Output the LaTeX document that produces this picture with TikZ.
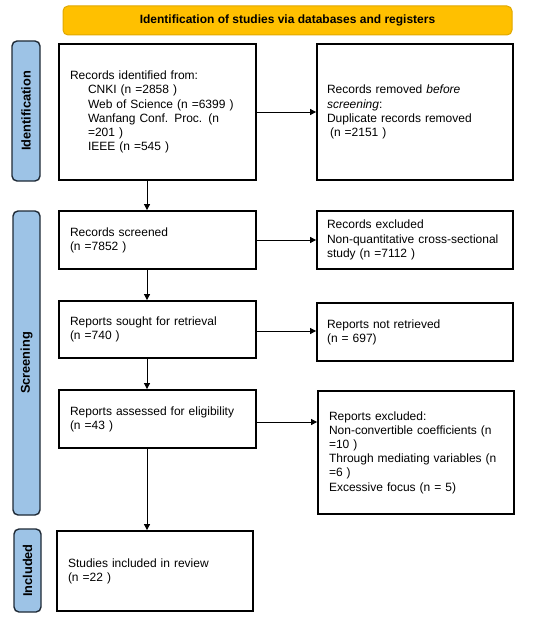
\documentclass[tikz,border=0pt]{standalone}
\usepackage{fontspec}
\setmainfont{Liberation Sans}
\usetikzlibrary{arrows.meta}
\definecolor{bannerfill}{HTML}{FFC000}
\definecolor{bannerdraw}{HTML}{E0A800}
\definecolor{barfill}{HTML}{9DC3E6}
\definecolor{bardraw}{HTML}{1F2A36}
\tikzset{
  box/.style={draw=black, line width=1.8pt, fill=white, align=left, anchor=center,
    inner xsep=11pt, inner ysep=0pt, font=\fontsize{12}{14.2}\selectfont},
  sidebar/.style={draw=bardraw, line width=1.4pt, fill=barfill, rounded corners=5pt,
    rotate=90, inner sep=0pt, font=\fontsize{12.8}{14}\selectfont\bfseries},
  banner/.style={draw=bannerdraw, line width=1pt, fill=bannerfill, rounded corners=5pt,
    inner sep=0pt, font=\fontsize{12}{14}\selectfont\bfseries},
  flow/.style={line width=0.8pt, -{Triangle[length=6pt,width=6pt]}}
}
\begin{document}
\begin{tikzpicture}[x=1pt,y=-1pt]
\useasboundingbox (0,0) rectangle (550,623);
\node[banner, minimum width=449pt, minimum height=29pt] (ban) at (287.5,20.5) {Identification of studies via databases and registers};
\node[sidebar, minimum width=140pt, minimum height=28pt] (idbar) at (26,111) {Identification};
\node[sidebar, minimum width=304pt, minimum height=27pt] (scbar) at (26.5,363) {Screening};
\node[sidebar, minimum width=83pt, minimum height=27pt] (inbar) at (27.5,570.5) {Included};

\node[box, minimum width=197pt, minimum height=136pt, text width=175pt] (b1) at (157.5,112) {Records identified from:\\
\hspace*{18pt}CNKI (n =2858 )\\
\hspace*{18pt}Web of Science (n =6399 )\\
\hspace*{18pt}Wanfang Conf. Proc. (n\\
\hspace*{18pt}=201 )\\
\hspace*{18pt}IEEE (n =545 )};
\node[box, minimum width=196pt, minimum height=136pt, text width=176pt, inner xsep=10pt] (b2) at (415,112) {Records removed \textit{before}\\
\textit{screening}:\\
Duplicate records removed\\
\hspace*{3pt}(n =2151 )};
\node[box, minimum width=197pt, minimum height=58pt, text width=175pt] (b3) at (157.5,240) {Records screened\\(n =7852 )};
\node[box, minimum width=196pt, minimum height=58pt, text width=176pt, inner xsep=10pt] (b4) at (415,240) {Records excluded\\Non-quantitative cross-sectional\\study (n =7112 )};
\node[box, minimum width=197pt, minimum height=57pt, text width=175pt] (b5) at (157.5,329.5) {Reports sought for retrieval\\(n =740 )};
\node[box, minimum width=196pt, minimum height=58pt, text width=176pt, inner xsep=10pt] (b6) at (415,332) {Reports not retrieved\\(n = 697)};
\node[box, minimum width=197pt, minimum height=58pt, text width=175pt] (b7) at (157.5,419) {Reports assessed for eligibility\\(n =43 )};
\node[box, minimum width=196pt, minimum height=123pt, text width=174pt] (b8) at (416,452.5) {Reports excluded:\\
Non-convertible coefficients (n\\
=10 )\\
Through mediating variables (n\\
=6 )\\
Excessive focus (n = 5)};
\node[box, minimum width=196pt, minimum height=80pt, text width=174pt] (b9) at (155,571) {Studies included in review\\(n =22 )};

\coordinate (ax) at (147,0);
\draw[flow] (b1.south -| ax) -- (b3.north -| ax);
\draw[flow] (b3.south -| ax) -- (b5.north -| ax);
\draw[flow] (b5.south -| ax) -- (b7.north -| ax);
\draw[flow] (b7.south -| ax) -- (b9.north -| ax);
\draw[flow] (b1.east) -- (b1.east -| b2.west);
\draw[flow] (b3.east) -- (b3.east -| b4.west);
\draw[flow] ([yshift=-1.5pt]b5.east) -- ([yshift=-1.5pt]b5.east -| b6.west);
\draw[flow] ([yshift=-3pt]b7.east) -- ([yshift=-3pt]b7.east -| b8.west);
\end{tikzpicture}
\end{document}
